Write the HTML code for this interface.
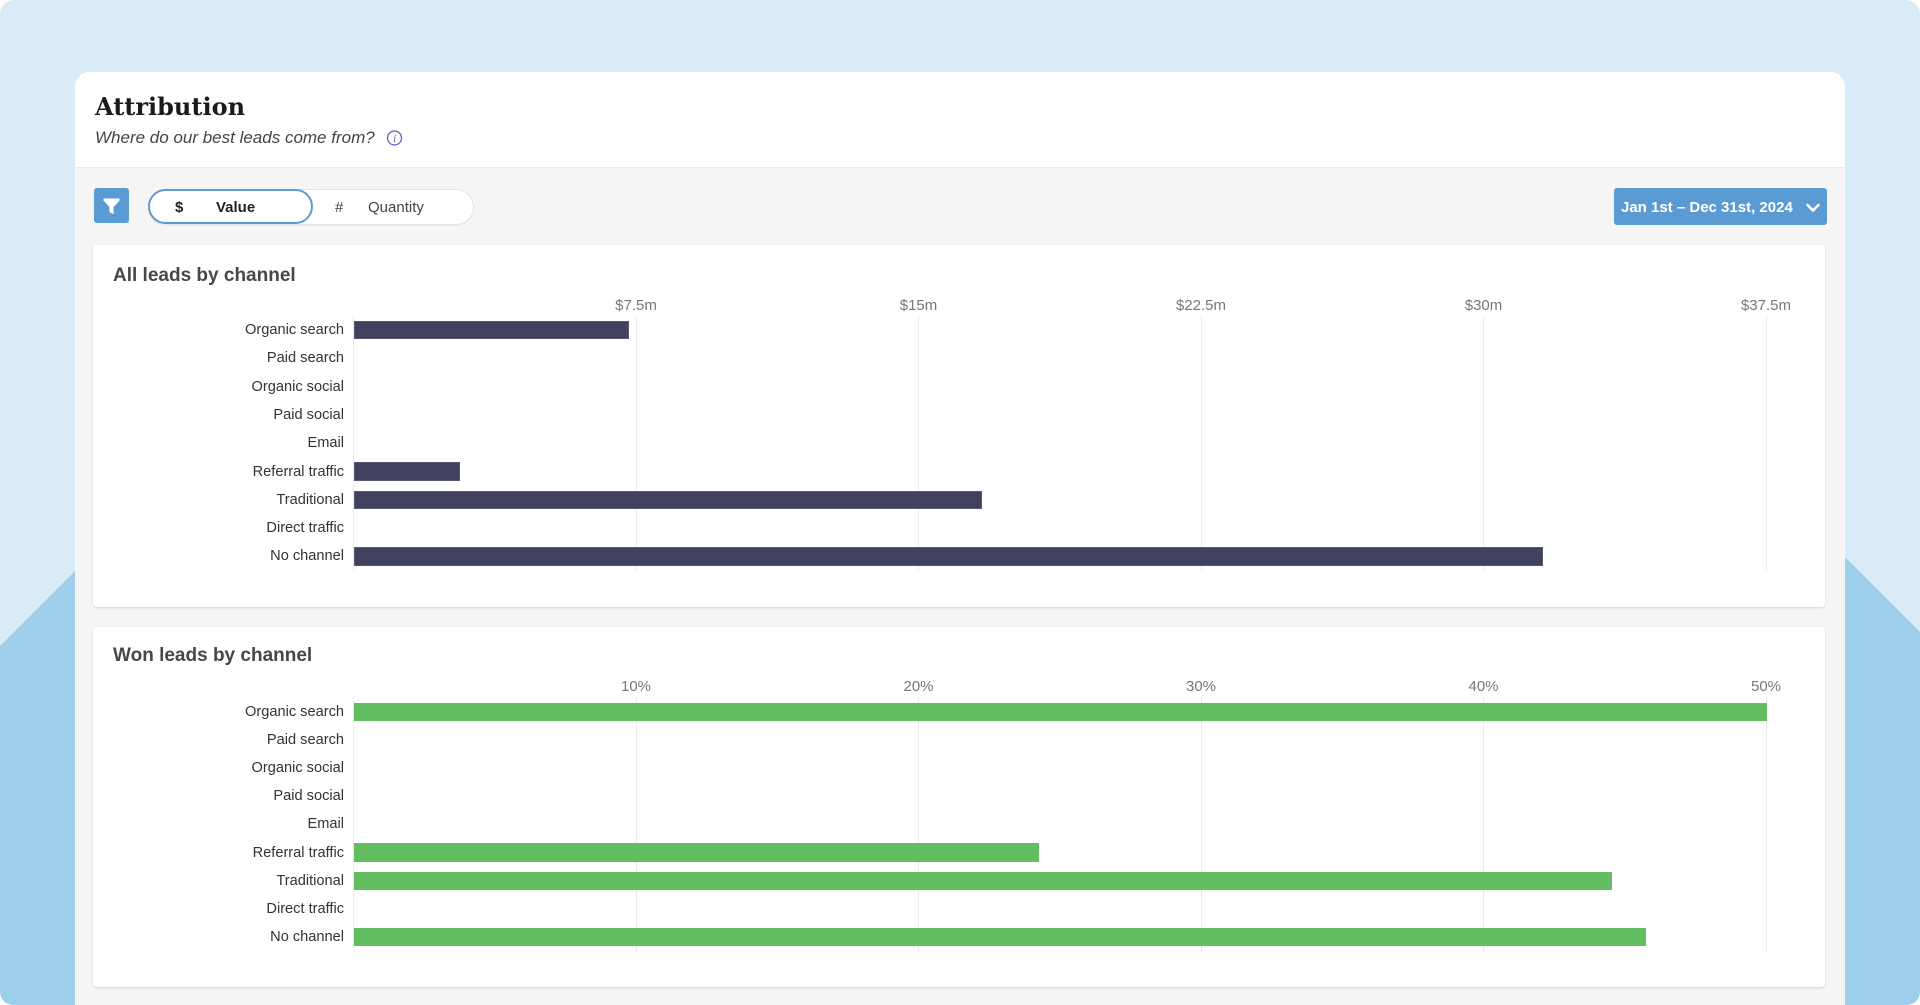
<!DOCTYPE html>
<html>
<head>
<meta charset="utf-8">
<style>
  html,body{margin:0;padding:0;width:1920px;height:1005px;overflow:hidden;}
  body{position:relative;background:#ffffff;font-family:"Liberation Sans",Arial,sans-serif;}
  .abs{position:absolute;}
  .bg{left:0;top:0;width:1920px;height:1005px;background:#daecf7;border-radius:14px;}
  .page{left:75px;top:72px;width:1770px;height:933px;background:#f5f5f5;border-radius:15px 15px 0 0;overflow:hidden;}
  .hdr{left:0;top:0;width:1770px;height:95px;background:#fff;border-bottom:1px solid #ebebeb;}
  .t{position:absolute;white-space:nowrap;line-height:1;}
  .card{position:absolute;left:93px;width:1732px;background:#fff;border-radius:4px;box-shadow:0 1px 2px rgba(0,0,0,0.13);}
  .lbl{position:absolute;right:1576px;white-space:nowrap;font-size:14.6px;line-height:20px;height:20px;color:#333;text-align:right;}
  .tick{position:absolute;width:100px;text-align:center;font-size:15px;line-height:1;color:#777;}
  .grid{position:absolute;width:1px;background:#ebebeb;}
  .bar1{position:absolute;left:353.5px;height:18.4px;background:#40415f;box-shadow:inset 0 0 0 1px rgba(255,255,255,0.12);}
  .bar2{position:absolute;left:353.5px;height:18.4px;background:#62be61;}
</style>
</head>
<body>
<div class="abs bg"></div>
<svg class="abs" style="left:0;top:0" width="1920" height="1005" viewBox="0 0 1920 1005">
  <path d="M0,646 L78,568 L1845,557 L1920,632 L1920,990 Q1920,1005 1905,1005 L15,1005 Q0,1005 0,990 Z" fill="#9ecfeb"/>
</svg>
<div class="abs page">
  <div class="abs hdr"></div>
</div>

<!-- Header -->
<div class="t" style="left:95px;top:94.5px;font-family:'DejaVu Serif','Liberation Serif',serif;font-weight:bold;font-size:24px;color:#1e1a1a;">Attribution</div>
<div class="t" style="left:95px;top:129px;font-style:italic;font-size:17px;color:#444;">Where do our best leads come from?</div>
<svg class="abs" style="left:386px;top:129px" width="18" height="18" viewBox="0 0 18 18">
  <circle cx="8.5" cy="9" r="7" fill="none" stroke="#6a5fc1" stroke-width="1.3"/>
  <text x="8.7" y="13.2" text-anchor="middle" font-family="Liberation Serif, serif" font-style="italic" font-size="11.5" fill="#6a5fc1">i</text>
</svg>

<!-- Filter button -->
<div class="abs" style="left:94px;top:188px;width:35px;height:35px;background:#5a9bd3;border-radius:3px;"></div>
<svg class="abs" style="left:103px;top:198px" width="17" height="17" viewBox="0 0 17 17">
  <path d="M0.5,0.5 H16.5 V2.8 L10.6,9 V16 L6.4,14.2 V9 L0.5,2.8 Z" fill="#fff"/>
</svg>

<!-- Toggle -->
<div class="abs" style="left:148px;top:189px;width:324px;height:34px;background:#fff;border:1px solid #e4e4e4;border-radius:18px;box-shadow:0 1px 1px rgba(0,0,0,0.04);"></div>
<div class="abs" style="left:148px;top:189px;width:161px;height:31px;background:#fff;border:2px solid #5b9bd5;border-radius:18px;"></div>
<div class="t" style="left:175px;top:199.5px;font-size:15px;font-weight:bold;color:#222;">$</div>
<div class="t" style="left:216px;top:199.5px;font-size:15px;font-weight:bold;color:#222;">Value</div>
<div class="t" style="left:335px;top:199.5px;font-size:15px;color:#444;">#</div>
<div class="t" style="left:368px;top:199.5px;font-size:15px;color:#444;">Quantity</div>

<!-- Date button -->
<div class="abs" style="left:1614px;top:188px;width:213px;height:37px;background:#5a9bd3;border-radius:3px;"></div>
<div class="t" style="left:1621px;top:200px;font-size:15px;font-weight:bold;color:#fff;">Jan 1st – Dec 31st, 2024</div>
<svg class="abs" style="left:1804px;top:201px" width="18" height="14" viewBox="0 0 18 14">
  <polyline points="3.5,4 9,9.5 14.5,4" fill="none" stroke="#fff" stroke-width="2.6" stroke-linecap="round" stroke-linejoin="round"/>
</svg>

<!-- Card 1 -->
<div class="card" style="top:245px;height:362px;"></div>
<div class="t" style="left:113px;top:265.6px;font-size:19px;font-weight:bold;color:#474747;">All leads by channel</div>

<div class="grid" style="left:353px;top:316px;height:255px;"></div>
<div class="grid" style="left:636px;top:316px;height:255px;"></div>
<div class="grid" style="left:918px;top:316px;height:255px;"></div>
<div class="grid" style="left:1201px;top:316px;height:255px;"></div>
<div class="grid" style="left:1483px;top:316px;height:255px;"></div>
<div class="grid" style="left:1766px;top:316px;height:255px;"></div>

<div class="tick" style="left:586px;top:298px;">$7.5m</div>
<div class="tick" style="left:868.5px;top:298px;">$15m</div>
<div class="tick" style="left:1151px;top:298px;">$22.5m</div>
<div class="tick" style="left:1433.5px;top:298px;">$30m</div>
<div class="tick" style="left:1716px;top:298px;">$37.5m</div>

<div class="lbl" style="top:320px;">Organic search</div>
<div class="lbl" style="top:348.3px;">Paid search</div>
<div class="lbl" style="top:376.6px;">Organic social</div>
<div class="lbl" style="top:404.9px;">Paid social</div>
<div class="lbl" style="top:433.2px;">Email</div>
<div class="lbl" style="top:461.5px;">Referral traffic</div>
<div class="lbl" style="top:489.8px;">Traditional</div>
<div class="lbl" style="top:518.1px;">Direct traffic</div>
<div class="lbl" style="top:546.4px;">No channel</div>

<div class="bar1" style="top:320.8px;width:275.5px;"></div>
<div class="bar1" style="top:462.3px;width:106.5px;"></div>
<div class="bar1" style="top:490.6px;width:628.7px;"></div>
<div class="bar1" style="top:547.2px;width:1189.8px;"></div>

<!-- Card 2 -->
<div class="card" style="top:627px;height:360px;"></div>
<div class="t" style="left:113px;top:646.2px;font-size:19px;font-weight:bold;color:#474747;">Won leads by channel</div>

<div class="grid" style="left:353px;top:697px;height:255px;"></div>
<div class="grid" style="left:636px;top:697px;height:255px;"></div>
<div class="grid" style="left:918px;top:697px;height:255px;"></div>
<div class="grid" style="left:1201px;top:697px;height:255px;"></div>
<div class="grid" style="left:1483px;top:697px;height:255px;"></div>
<div class="grid" style="left:1766px;top:697px;height:255px;"></div>

<div class="tick" style="left:586px;top:679px;">10%</div>
<div class="tick" style="left:868.5px;top:679px;">20%</div>
<div class="tick" style="left:1151px;top:679px;">30%</div>
<div class="tick" style="left:1433.5px;top:679px;">40%</div>
<div class="tick" style="left:1716px;top:679px;">50%</div>

<div class="lbl" style="top:701.8px;">Organic search</div>
<div class="lbl" style="top:729.95px;">Paid search</div>
<div class="lbl" style="top:758.1px;">Organic social</div>
<div class="lbl" style="top:786.25px;">Paid social</div>
<div class="lbl" style="top:814.4px;">Email</div>
<div class="lbl" style="top:842.55px;">Referral traffic</div>
<div class="lbl" style="top:870.7px;">Traditional</div>
<div class="lbl" style="top:898.85px;">Direct traffic</div>
<div class="lbl" style="top:927px;">No channel</div>

<div class="bar2" style="top:702.6px;width:1413px;"></div>
<div class="bar2" style="top:843.35px;width:685px;"></div>
<div class="bar2" style="top:871.5px;width:1258.5px;"></div>
<div class="bar2" style="top:927.8px;width:1292.2px;"></div>
</body>
</html>
